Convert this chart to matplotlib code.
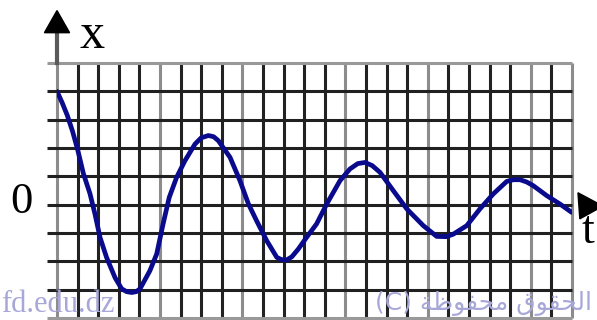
import matplotlib
matplotlib.use('Agg')
import matplotlib.pyplot as plt
from matplotlib.patches import Polygon

# damped oscillation x(t), in grid units (one unit = one grid square)
t_pts = [0.0, 0.25, 0.5, 0.75, 1.0, 1.28, 1.6, 1.84, 2.09, 2.41, 2.82, 3.14, 3.38,
         3.63, 3.85, 4.03, 4.51, 4.84, 5.15, 5.45, 5.81, 6.21, 6.70, 7.0, 7.35,
         7.6, 7.83, 8.40, 8.88, 9.29, 9.69, 10.18, 10.67, 10.9, 11.15, 11.4,
         11.71, 12.1, 12.6, 13.09, 13.74, 14.22, 14.6, 14.95, 15.3, 15.68, 16.33,
         16.98, 17.78, 18.43, 18.9, 19.24, 19.89, 20.53, 21.18, 21.83, 22.15,
         22.48, 22.8, 23.12, 23.77, 24.42, 24.98]
x_pts = [4.0, 3.6, 3.15, 2.6, 1.95, 1.1, 0.39, -0.32, -1.16, -1.87, -2.58, -2.97, -3.07,
         -3.1, -3.07, -2.97, -2.33, -1.74, -0.68, 0.26, 0.97, 1.55, 2.14, 2.36, 2.44,
         2.4, 2.26, 1.67, 0.85, 0.03, -0.57, -1.27, -1.86, -1.94, -1.95, -1.84,
         -1.57, -1.17, -0.68, 0.02, 0.85, 1.26, 1.45, 1.49, 1.38, 1.14, 0.49,
         -0.15, -0.74, -1.12, -1.13, -1.04, -0.74, -0.15, 0.38, 0.82, 0.88,
         0.88, 0.8, 0.67, 0.32, 0.02, -0.27]

n_cols = 25
y_min, y_max = -4, 5
light_cols = [0, 5, 9, 14, 18, 23, 25]

fig = plt.figure(figsize=(5.97, 3.2), dpi=100)
ax = fig.add_axes([57 / 597, 2 / 320, 515 / 597, 255 / 320])
ax.set_xlim(0, n_cols)
ax.set_ylim(y_min, y_max)
ax.axis('off')

# grid
for i in range(n_cols + 1):
    c = '#8c8c8c' if i in light_cols else '#222222'
    ax.vlines(i, y_min, y_max, colors=c, lw=2.2, clip_on=False, zorder=1)
for j in range(y_min, y_max + 1):
    c = '#999999' if j in (y_min, y_max) else '#202020'
    ax.hlines(j, -0.49, n_cols, colors=c, lw=2.2, clip_on=False, zorder=1)

# vertical axis with arrow
ax.plot([0, 0], [y_max, 6.1], color='#5a5a5a', lw=3, clip_on=False, zorder=2)
ax.add_patch(Polygon([[-0.61, 6.07], [0.61, 6.07], [0, 6.85]], closed=True,
                     color='black', clip_on=False, zorder=3))
# horizontal axis arrow head
ax.add_patch(Polygon([[25.29, 0.42], [25.38, -0.5], [26.5, -0.05]], closed=True,
                     color='black', clip_on=False, zorder=3))

ax.plot(t_pts, x_pts, color='#0a0a8c', lw=3.4, solid_joinstyle='round',
        solid_capstyle='round', zorder=4)

serif = 'Liberation Serif'
fig.text(79 / 597, 1 - 48 / 320, 'x', fontsize=36, family=serif, ha='left',
         va='baseline')
fig.text(10 / 597, 1 - 213 / 320, '0', fontsize=32, family=serif, ha='left',
         va='baseline')
fig.text(581 / 597, 1 - 243 / 320, 't', fontsize=33, family=serif, ha='left',
         va='baseline')

# watermark
wm = '#a8a8d8'
fig.text(1 / 597, 1 - 312 / 320, 'fd.edu.dz', fontsize=22, family=serif,
         color=wm, ha='left', va='baseline', zorder=0)
arabic = ''.join(chr(c) for c in [0xFE94, 0xFEC7, 0xFEEE, 0xFED4, 0xFEA4, 0xFEE3]) \
    + ' ' + ''.join(chr(c) for c in [0xFED5, 0xFEEE, 0xFED8, 0xFEA4, 0xFEDF, 0xFE8D])
fig.text(592 / 597, 1 - 310 / 320, '(C) ' + arabic, fontsize=18,
         family=['DejaVu Sans'], color=wm, ha='right', va='baseline', zorder=0)

fig.savefig('out.png', dpi=100)
